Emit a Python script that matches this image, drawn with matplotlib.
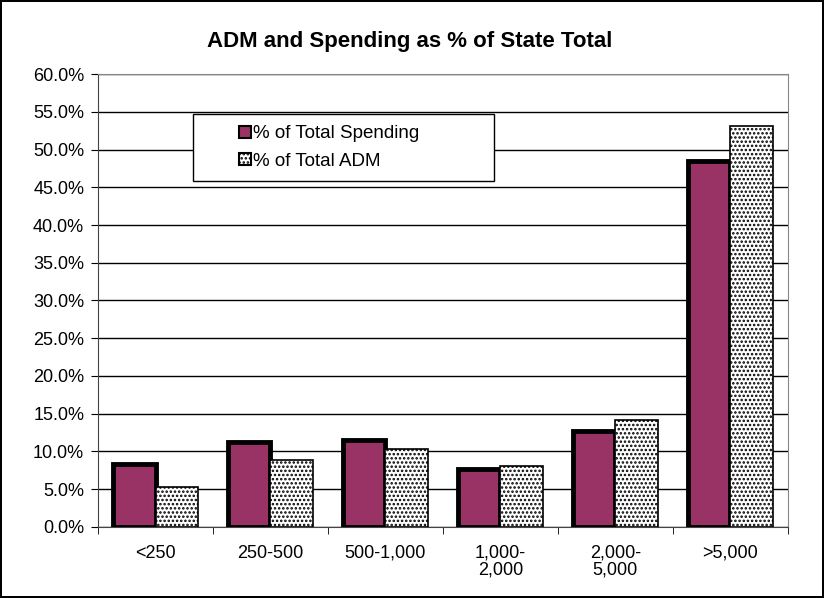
import numpy as np
import matplotlib.pyplot as plt
from matplotlib.patches import Rectangle

plt.rcParams['font.family'] = ['Liberation Sans', 'DejaVu Sans']
plt.rcParams['hatch.linewidth'] = 1.2

categories = ['<250', '250-500', '500-1,000', '1,000-\n2,000', '2,000-\n5,000', '>5,000']
spending = [8.3, 11.3, 11.5, 7.7, 12.7, 48.5]
adm = [5.3, 8.9, 10.3, 8.1, 14.2, 53.1]

fig = plt.figure(figsize=(8.24, 5.98), dpi=100)
fig.patch.set_edgecolor('black')
fig.patch.set_linewidth(1.5)
ax = fig.add_axes([0.119, 0.119, 0.837, 0.757])

x = np.arange(len(categories))
w = 0.37
ax.bar(x - w/2, spending, w, color='#993366', edgecolor='black', linewidth=3.5,
       label='% of Total Spending', zorder=3)
ax.bar(x + w/2, adm, w, color='white', edgecolor='black', linewidth=1.2,
       hatch='....', label='% of Total ADM', zorder=3)

ax.set_xlim(-0.5, len(categories) - 0.5)
ax.set_ylim(0, 60)
ax.set_yticks(np.arange(0, 61, 5))
ax.set_yticklabels(['%.1f%%' % v for v in np.arange(0, 61, 5)], fontsize=13)
ax.yaxis.grid(True, color='black', linewidth=1)
ax.set_axisbelow(True)

ax.set_xticks(x)
ax.set_xticklabels(categories, fontsize=13, va='top', linespacing=1.0)
ax.tick_params(axis='x', length=0, pad=13)
ax.set_xticks(np.arange(-0.5, len(categories)), minor=True)
ax.tick_params(axis='x', which='minor', length=5, direction='out')
ax.tick_params(axis='y', length=5, direction='out', pad=5)

for s in ['top', 'right']:
    ax.spines[s].set_color('#888888')
for s in ['left', 'bottom']:
    ax.spines[s].set_color('#444444')

fig.text(0.497, 0.93, 'ADM and Spending as % of State Total', fontsize=16,
         fontweight='bold', ha='center', va='center')

# legend frame drawn separately so it can be wider than its contents
ax.add_patch(Rectangle((0.138, 0.764), 0.436, 0.148, transform=ax.transAxes,
                       facecolor='white', edgecolor='black', linewidth=1, zorder=4))
leg = ax.legend(loc='center', bbox_to_anchor=(0.335, 0.838), fontsize=13.5,
                frameon=False, handlelength=0.6, handleheight=0.6, handletextpad=0.1,
                labelspacing=0.55, borderaxespad=0)
leg.set_zorder(5)
for h in leg.legend_handles:
    h.set_linewidth(1.5)

fig.savefig('out.png', dpi=100)
